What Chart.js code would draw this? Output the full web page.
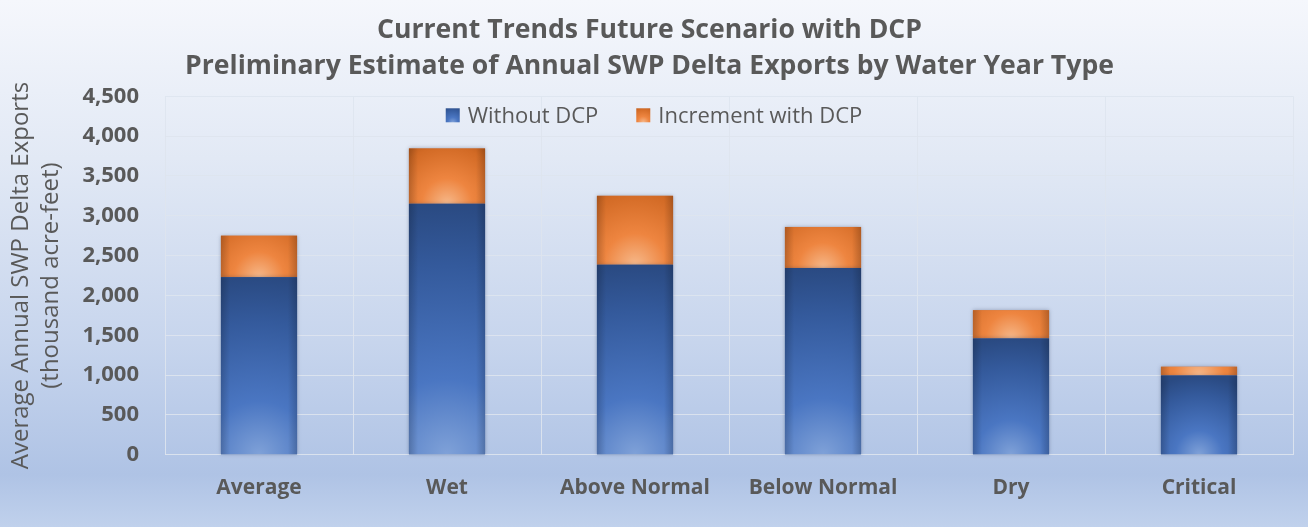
<!DOCTYPE html>
<html>
<head>
<meta charset="utf-8">
<script src="https://cdn.jsdelivr.net/npm/chart.js@4.4.1/dist/chart.umd.min.js"></script>
<style>
  html, body { margin: 0; padding: 0; }
  body {
    width: 1308px; height: 527px; overflow: hidden;
    background: linear-gradient(to bottom, #f5f7fc 0%, #e2e9f5 30%, #c7d5ed 65%, #afc3e5 90%, #c0d1ec 100%);
  }
  canvas { display: block; }
</style>
</head>
<body>
<canvas id="waterChart" width="1308" height="527"></canvas>
<script>
// water year types
const categories = ['Average', 'Wet', 'Above Normal', 'Below Normal', 'Dry', 'Critical'];
// thousand acre-feet
const withoutDcp = [2230, 3150, 2385, 2345, 1460, 995];
const incrementDcp = [520, 695, 865, 515, 355, 110];
const yTicks = [0, 500, 1000, 1500, 2000, 2500, 3000, 3500, 4000, 4500];

const fontFamily = "'Open Sans', 'Noto Sans', sans-serif";
const textColor = '#595959';

function blueGlow(ctx, cx, cy, r) {
    const g = ctx.createRadialGradient(cx, cy, 0, cx, cy, r);
    g.addColorStop(0, '#7fa1d8');
    g.addColorStop(0.3, '#4a76c2');
    g.addColorStop(0.75, '#345a9c');
    g.addColorStop(1, '#2a4a82');
    return g;
}

function orangeGlow(ctx, cx, cy, r) {
    const g = ctx.createRadialGradient(cx, cy, 0, cx, cy, r);
    g.addColorStop(0, '#f6b88a');
    g.addColorStop(0.35, '#ee8540');
    g.addColorStop(0.8, '#d26a25');
    g.addColorStop(1, '#b4571a');
    return g;
}

// shades each bar with a radial glow from its bottom edge, like the office chart
const barShading = {
    id: 'barShading',
    afterDatasetDraw(chart, args) {
        const ctx = chart.ctx;
        const isBlue = args.index === 0;
        args.meta.data.forEach(bar => {
            const left = bar.x - bar.width / 2;
            const top = Math.min(bar.y, bar.base);
            const h = Math.abs(bar.base - bar.y);
            const cy = top + h;
            const r = Math.max(bar.width * 0.95, h * (isBlue ? 1.0 : 1.3));
            ctx.save();
            ctx.shadowColor = 'rgba(40,50,80,0.35)';
            ctx.shadowBlur = 4;
            ctx.fillStyle = isBlue ? blueGlow(ctx, bar.x, cy, r) : orangeGlow(ctx, bar.x, cy, r);
            ctx.fillRect(left, top, bar.width, h);
            ctx.restore();
            // darker side edges
            ctx.save();
            const side = ctx.createLinearGradient(left, 0, left + bar.width, 0);
            side.addColorStop(0, 'rgba(0,0,0,0.18)');
            side.addColorStop(0.12, 'rgba(0,0,0,0)');
            side.addColorStop(0.88, 'rgba(0,0,0,0)');
            side.addColorStop(1, 'rgba(0,0,0,0.18)');
            ctx.fillStyle = side;
            ctx.fillRect(left, top, bar.width, h);
            ctx.restore();
        });
    }
};

// legend sits inside the plot, centred on the page, one row
const innerLegend = {
    id: 'innerLegend',
    afterDraw(chart) {
        const ctx = chart.ctx;
        const box = 14, gapText = 8, gapItem = 38;
        const y = chart.chartArea.top + 19;
        ctx.save();
        ctx.font = '22px ' + fontFamily;
        ctx.textBaseline = 'middle';
        const items = chart.data.datasets.map(ds => ({ label: ds.label, w: ctx.measureText(ds.label).width }));
        const total = items.reduce((s, it) => s + box + gapText + it.w, 0) + gapItem * (items.length - 1);
        let x = chart.width / 2 - total / 2;
        items.forEach((it, i) => {
            const by = y - box / 2;
            ctx.fillStyle = i === 0 ? blueGlow(ctx, x + box / 2, by + box, box * 1.2)
                                    : orangeGlow(ctx, x + box / 2, by + box, box * 1.2);
            ctx.fillRect(x, by, box, box);
            x += box + gapText;
            ctx.fillStyle = textColor;
            ctx.fillText(it.label, x, y + 1);
            x += it.w + gapItem;
        });
        ctx.restore();
    }
};

const ctx = document.getElementById('waterChart').getContext('2d');

new Chart(ctx, {
    type: 'bar',
    data: {
        labels: categories,
        datasets: [
            {
                label: 'Without DCP',
                data: withoutDcp,
                backgroundColor: '#3f6cb8',
                borderWidth: 0,
                categoryPercentage: 1.0,
                barPercentage: 0.405
            },
            {
                label: 'Increment with DCP',
                data: incrementDcp,
                backgroundColor: '#ed7d31',
                borderWidth: 0,
                categoryPercentage: 1.0,
                barPercentage: 0.405
            }
        ]
    },
    options: {
        responsive: false,
        animation: false,
        layout: { padding: { top: 13, left: 6, right: 15, bottom: 5 } },
        plugins: {
            title: {
                display: true,
                text: ['Current Trends Future Scenario with DCP',
                       'Preliminary Estimate of Annual SWP Delta Exports by Water Year Type'],
                color: textColor,
                font: { family: fontFamily, size: 26.6, weight: 'bold', lineHeight: 1.34 },
                padding: { top: 0, bottom: 12 }
            },
            legend: { display: false },
            tooltip: { enabled: false }
        },
        scales: {
            x: {
                stacked: true,
                grid: { color: 'rgba(222,228,238,0.9)', lineWidth: 1, offset: true, drawTicks: false },
                border: { display: false },
                ticks: {
                    color: textColor,
                    font: { family: fontFamily, size: 21, weight: 'bold' },
                    padding: 21
                }
            },
            y: {
                stacked: true,
                min: 0,
                max: 4500,
                afterBuildTicks: axis => { axis.ticks = yTicks.map(v => ({ value: v })); },
                afterFit: axis => { axis.width = 159; },
                grid: { color: 'rgba(222,228,238,0.9)', lineWidth: 1, drawTicks: false },
                border: { display: false },
                title: {
                    display: true,
                    text: ['Average Annual SWP Delta Exports', '(thousand acre-feet)'],
                    color: textColor,
                    font: { family: fontFamily, size: 24, lineHeight: 1.25 },
                    padding: 0
                },
                ticks: {
                    color: textColor,
                    font: { family: fontFamily, size: 22, weight: 'bold' },
                    padding: 26,
                    callback: v => v.toLocaleString('en-US')
                }
            }
        }
    },
    plugins: [barShading, innerLegend]
});
</script>
</body>
</html>
